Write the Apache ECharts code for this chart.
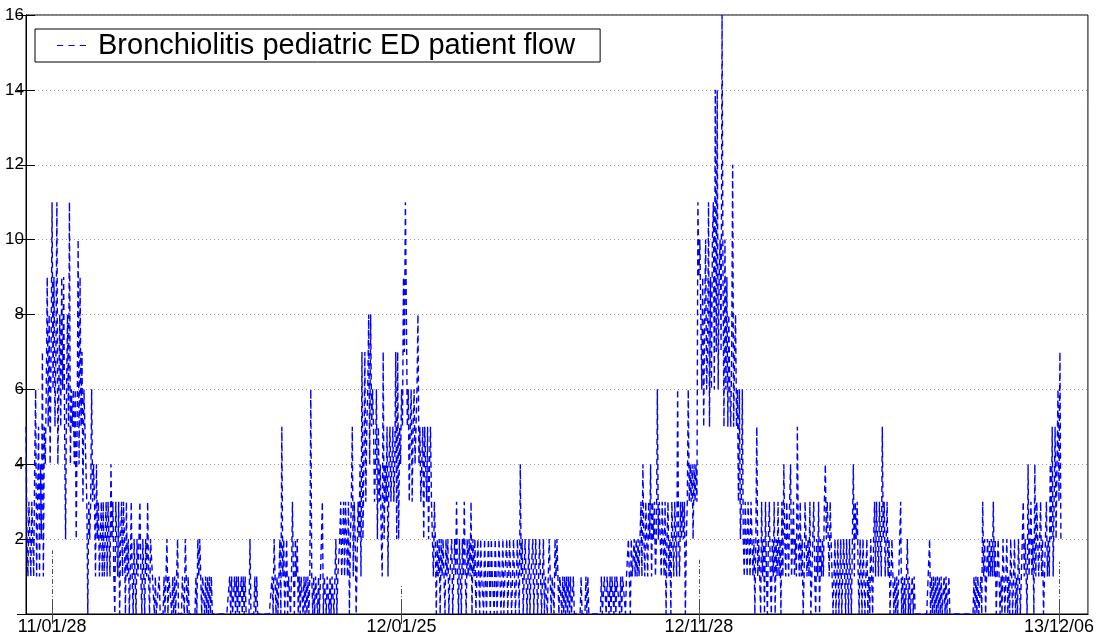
<!DOCTYPE html>
<html><head><meta charset="utf-8">
<script src="https://cdn.jsdelivr.net/npm/echarts@6/dist/echarts.min.js"></script>
<style>html,body{margin:0;padding:0;background:#fff}#chart{width:1097px;height:636px}</style>
</head><body><div id="chart"></div>
<script>
// ---- data (daily patient counts, starting 2011-01-01) ----
const startDate = '2011-01-01';
const axisEndDay = 1100;
const seriesName = 'Bronchiolitis pediatric ED patient flow';
const tickDates = ['2011-01-28','2012-01-25','2012-11-28','2013-12-06'];
const tickLabels = ['11/01/28','12/01/25','12/11/28','13/12/06'];
const tickStemHeights = [1.7, 0.75, 1.45, 1.4];
const yMin = 0, yMax = 16, yStep = 2;

const flowDays000_099 = [5,2,1,3,2,1,3,2,1,4, 6,1,3,5,1,4,2,7,1,5, 4,6,9,5,8,4,7,11,6,9, 5,7,11,4,6,8,5,9,6,9,
  5,2,6,8,5,11,4,6,5,6, 4,6,2,5,10,4,9,5,7,3, 6,5,4,3,0,3,2,3,6,3, 4,3,1,4,2,3,1,2,3,1,
  3,1,2,3,1,3,2,1,4,2, 3,1,0,3,2,1,3,0,2,3];
const flowDays100_199 = [1,3,2,0,3,1,2,0,1,3, 1,0,2,1,0,2,1,2,3,1, 0,2,1,0,2,1,3,1,0,2, 2,1,1,0,1,0,0,0,1,0,
  0,0,0,1,0,1,2,0,1,1, 1,0,1,0,1,0,1,2,0,0, 0,0,1,1,0,2,1,0,1,0, 0,0,0,0,0,0,1,0,2,1,
  2,1,0,1,1,0,1,0,1,0, 1,0,1,0,0,0,0,0,0,0];
const flowDays200_299 = [0,0,0,0,0,0,0,0,0,0, 0,1,0,1,0,0,1,0,1,0, 1,0,0,1,0,1,0,1,0,0, 0,0,2,0,0,0,0,1,0,1,
  0,0,0,0,0,0,0,0,0,0, 0,0,0,0,0,1,0,2,1,0, 1,0,1,2,0,5,1,2,0,1, 2,0,1,1,0,1,3,1,0,2,
  1,2,0,1,0,1,1,0,1,0, 1,0,1,0,1,6,1,0,1,0];
const flowDays300_399 = [1,1,0,1,0,1,1,3,0,1, 1,0,1,1,0,1,0,1,1,0, 1,2,0,1,1,2,3,1,2,3, 1,3,2,1,3,0,2,3,5,1,
  3,2,0,0,3,2,4,1,7,2, 4,7,3,5,6,8,4,8,5,6, 5,3,4,6,2,5,3,4,2,1, 7,2,4,3,5,1,4,5,3,4,
  5,3,4,7,2,7,2,5,4,6, 5,9,7,11,8,5,6,3,5,6];
const flowDays400_499 = [3,5,6,4,5,6,8,4,5,3, 4,5,2,5,4,3,5,2,4,5, 3,2,1,3,2,0,2,1,2,0, 2,1,2,1,0,2,1,2,0,1,
  1,2,0,1,2,1,3,1,0,2, 1,0,2,1,3,1,0,2,1,2, 1,3,0,2,1,2,0,1,2,1, 0,2,1,1,0,2,1,0,1,2,
  1,0,2,1,1,0,2,1,0,1, 2,1,0,1,2,0,1,1,2,0];
const flowDays500_599 = [1,2,1,0,1,2,1,0,1,2, 1,0,4,1,2,0,1,2,1,0, 1,2,0,1,1,2,0,1,2,1, 0,1,2,1,0,1,2,0,1,1,
  0,1,2,1,0,1,1,0,2,1, 2,1,0,1,1,0,1,0,1,0, 1,0,1,0,1,0,0,1,0,0, 0,0,0,0,0,1,0,0,0,0,
  1,0,1,0,0,0,0,0,0,0, 0,0,0,0,0,0,1,0,0,1];
const flowDays600_699 = [1,0,1,1,0,1,0,1,1,0, 1,0,1,1,1,0,1,0,1,1, 1,0,1,1,2,1,0,2,1,1, 2,1,2,1,2,1,2,3,1,4,
  2,1,3,2,1,3,2,4,1,3, 2,3,1,2,6,2,3,2,1,3, 2,1,3,0,2,3,1,2,0,3, 2,1,3,2,1,6,2,1,3,2,
  3,2,3,0,2,3,6,3,4,3, 4,2,4,3,4,3,11,9,10,8];
const flowDays700_799 = [6,9,5,8,10,6,7,11,5,9, 6,10,11,6,14,7,14,6,9,10, 7,16,9,5,10,6,9,5,8,6, 5,7,12,5,7,8,5,6,3,6,
  2,3,6,2,1,3,2,1,3,2, 1,3,2,1,2,0,2,5,1,2, 1,0,3,1,2,0,3,1,0,2, 3,1,0,2,1,3,0,2,1,3,
  1,2,0,3,1,4,2,1,3,2, 1,3,4,1,2,3,1,2,1,5];
const flowDays800_899 = [2,1,3,1,2,0,1,3,2,1, 2,1,3,0,1,2,3,1,0,2, 1,3,0,2,1,2,1,3,4,2, 3,2,1,3,2,1,0,1,2,0,
  1,2,0,1,2,0,1,2,1,0, 2,1,0,2,1,0,2,4,1,3, 2,3,1,0,2,1,0,2,1,0, 1,2,0,1,0,2,1,0,2,3,
  1,3,2,1,3,2,1,5,2,3, 1,2,3,1,2,0,1,2,1,0];
const flowDays900_999 = [1,0,1,0,1,2,3,0,1,0, 1,0,1,2,0,1,0,0,1,0, 1,0,0,0,0,0,0,0,0,0, 0,0,0,0,0,0,2,0,1,0,
  1,0,1,0,1,0,1,0,1,0, 0,1,0,1,0,0,1,0,0,0, 0,0,0,0,0,0,0,0,0,0, 0,0,0,0,0,0,0,0,0,0,
  0,0,1,0,1,0,1,0,0,1, 0,3,1,2,0,1,2,1,2,1];
const flowDays1000_1072 = [2,1,3,1,2,0,1,2,1,0, 1,0,2,1,0,1,2,0,1,0, 2,1,0,1,2,0,1,0,2,1, 0,1,2,3,1,2,1,0,4,1,
  2,3,1,2,0,4,1,3,2,1, 2,3,1,2,0,1,2,3,1,2, 1,4,2,5,1,3,5,2,4,6, 3,7,2];

// ---- build ----
const flow = [].concat(flowDays000_099, flowDays100_199, flowDays200_299, flowDays300_399,
  flowDays400_499, flowDays500_599, flowDays600_699, flowDays700_799, flowDays800_899,
  flowDays900_999, flowDays1000_1072);
const DAY = 86400000;
const t0 = Date.parse(startDate + 'T00:00:00Z');
const toDay = s => Math.round((Date.parse(s + 'T00:00:00Z') - t0) / DAY);
const tickDays = tickDates.map(toDay);
const labelOf = {};
tickDays.forEach((d, i) => labelOf[d] = tickLabels[i]);
const lineData = flow.map((v, i) => [i, v]);
const stemLines = tickDays.map((d, i) => [{coord: [d, 0]}, {coord: [d, tickStemHeights[i]]}]);

const FONT = '"Liberation Sans", Arial, Helvetica, sans-serif';
const chart = echarts.init(document.getElementById('chart'), null, {renderer: 'canvas'});
chart.setOption({
  animation: false,
  backgroundColor: '#fff',
  grid: {left: 26, right: 9, top: 15, bottom: 20, show: true, borderColor: '#000', borderWidth: 1, containLabel: false},
  legend: {
    data: [seriesName], left: 35, top: 29, orient: 'horizontal',
    backgroundColor: '#fff', borderColor: '#000', borderWidth: 1, borderRadius: 0,
    padding: [2, 25, 2, 22], itemWidth: 29, itemHeight: 1.4,
    icon: 'path://M0,0h6v1H0z M11,0h6v1H11z M22,0h6v1H22z',
    itemStyle: {color: '#0000ff', borderWidth: 0},
    textStyle: {fontSize: 29, color: '#000', fontFamily: FONT, padding: [0, 0, 0, 7]},
    selectedMode: false
  },
  xAxis: [{
    type: 'value', min: 0, max: axisEndDay, position: 'bottom',
    axisLine: {show: true, lineStyle: {color: '#000', width: 1}},
    axisTick: {show: true, inside: true, length: 10, customValues: tickDays, lineStyle: {color: '#444'}},
    axisLabel: {show: true, customValues: tickDays, formatter: v => labelOf[Math.round(v)] || '',
      fontSize: 18, color: '#000', fontFamily: FONT, margin: 4},
    splitLine: {show: false}
  }, {
    type: 'value', min: 0, max: axisEndDay, position: 'top',
    axisLine: {show: true, lineStyle: {color: '#000', width: 1}},
    axisTick: {show: true, inside: true, length: 10, customValues: tickDays, lineStyle: {color: '#444'}},
    axisLabel: {show: false},
    splitLine: {show: false}
  }],
  yAxis: [{
    type: 'value', min: yMin, max: yMax, interval: yStep, position: 'left',
    axisLine: {show: true, lineStyle: {color: '#000', width: 1}},
    axisTick: {show: true, inside: true, length: 9, lineStyle: {color: '#000'}},
    axisLabel: {formatter: v => v === 0 ? '' : String(v), fontSize: 17, color: '#000', fontFamily: FONT, margin: 2},
    splitLine: {show: true, lineStyle: {color: '#999', width: 1, type: [1, 3]}}
  }, {
    type: 'value', min: yMin, max: yMax, interval: yStep, position: 'right',
    axisLine: {show: true, lineStyle: {color: '#000', width: 1}},
    axisTick: {show: true, inside: true, length: 9, lineStyle: {color: '#000'}},
    axisLabel: {show: false},
    splitLine: {show: false}
  }],
  series: [{
    name: seriesName, type: 'line', xAxisIndex: 0, yAxisIndex: 0,
    data: lineData, showSymbol: false, symbol: 'none', sampling: null,
    lineStyle: {color: '#0000ff', width: 1.4, type: [6, 4]},
    itemStyle: {color: '#0000ff'},
    markLine: {silent: true, symbol: 'none', label: {show: false},
      lineStyle: {color: '#555', width: 1, type: [5, 2, 1, 2]}, data: stemLines}
  }]
});
</script></body></html>
